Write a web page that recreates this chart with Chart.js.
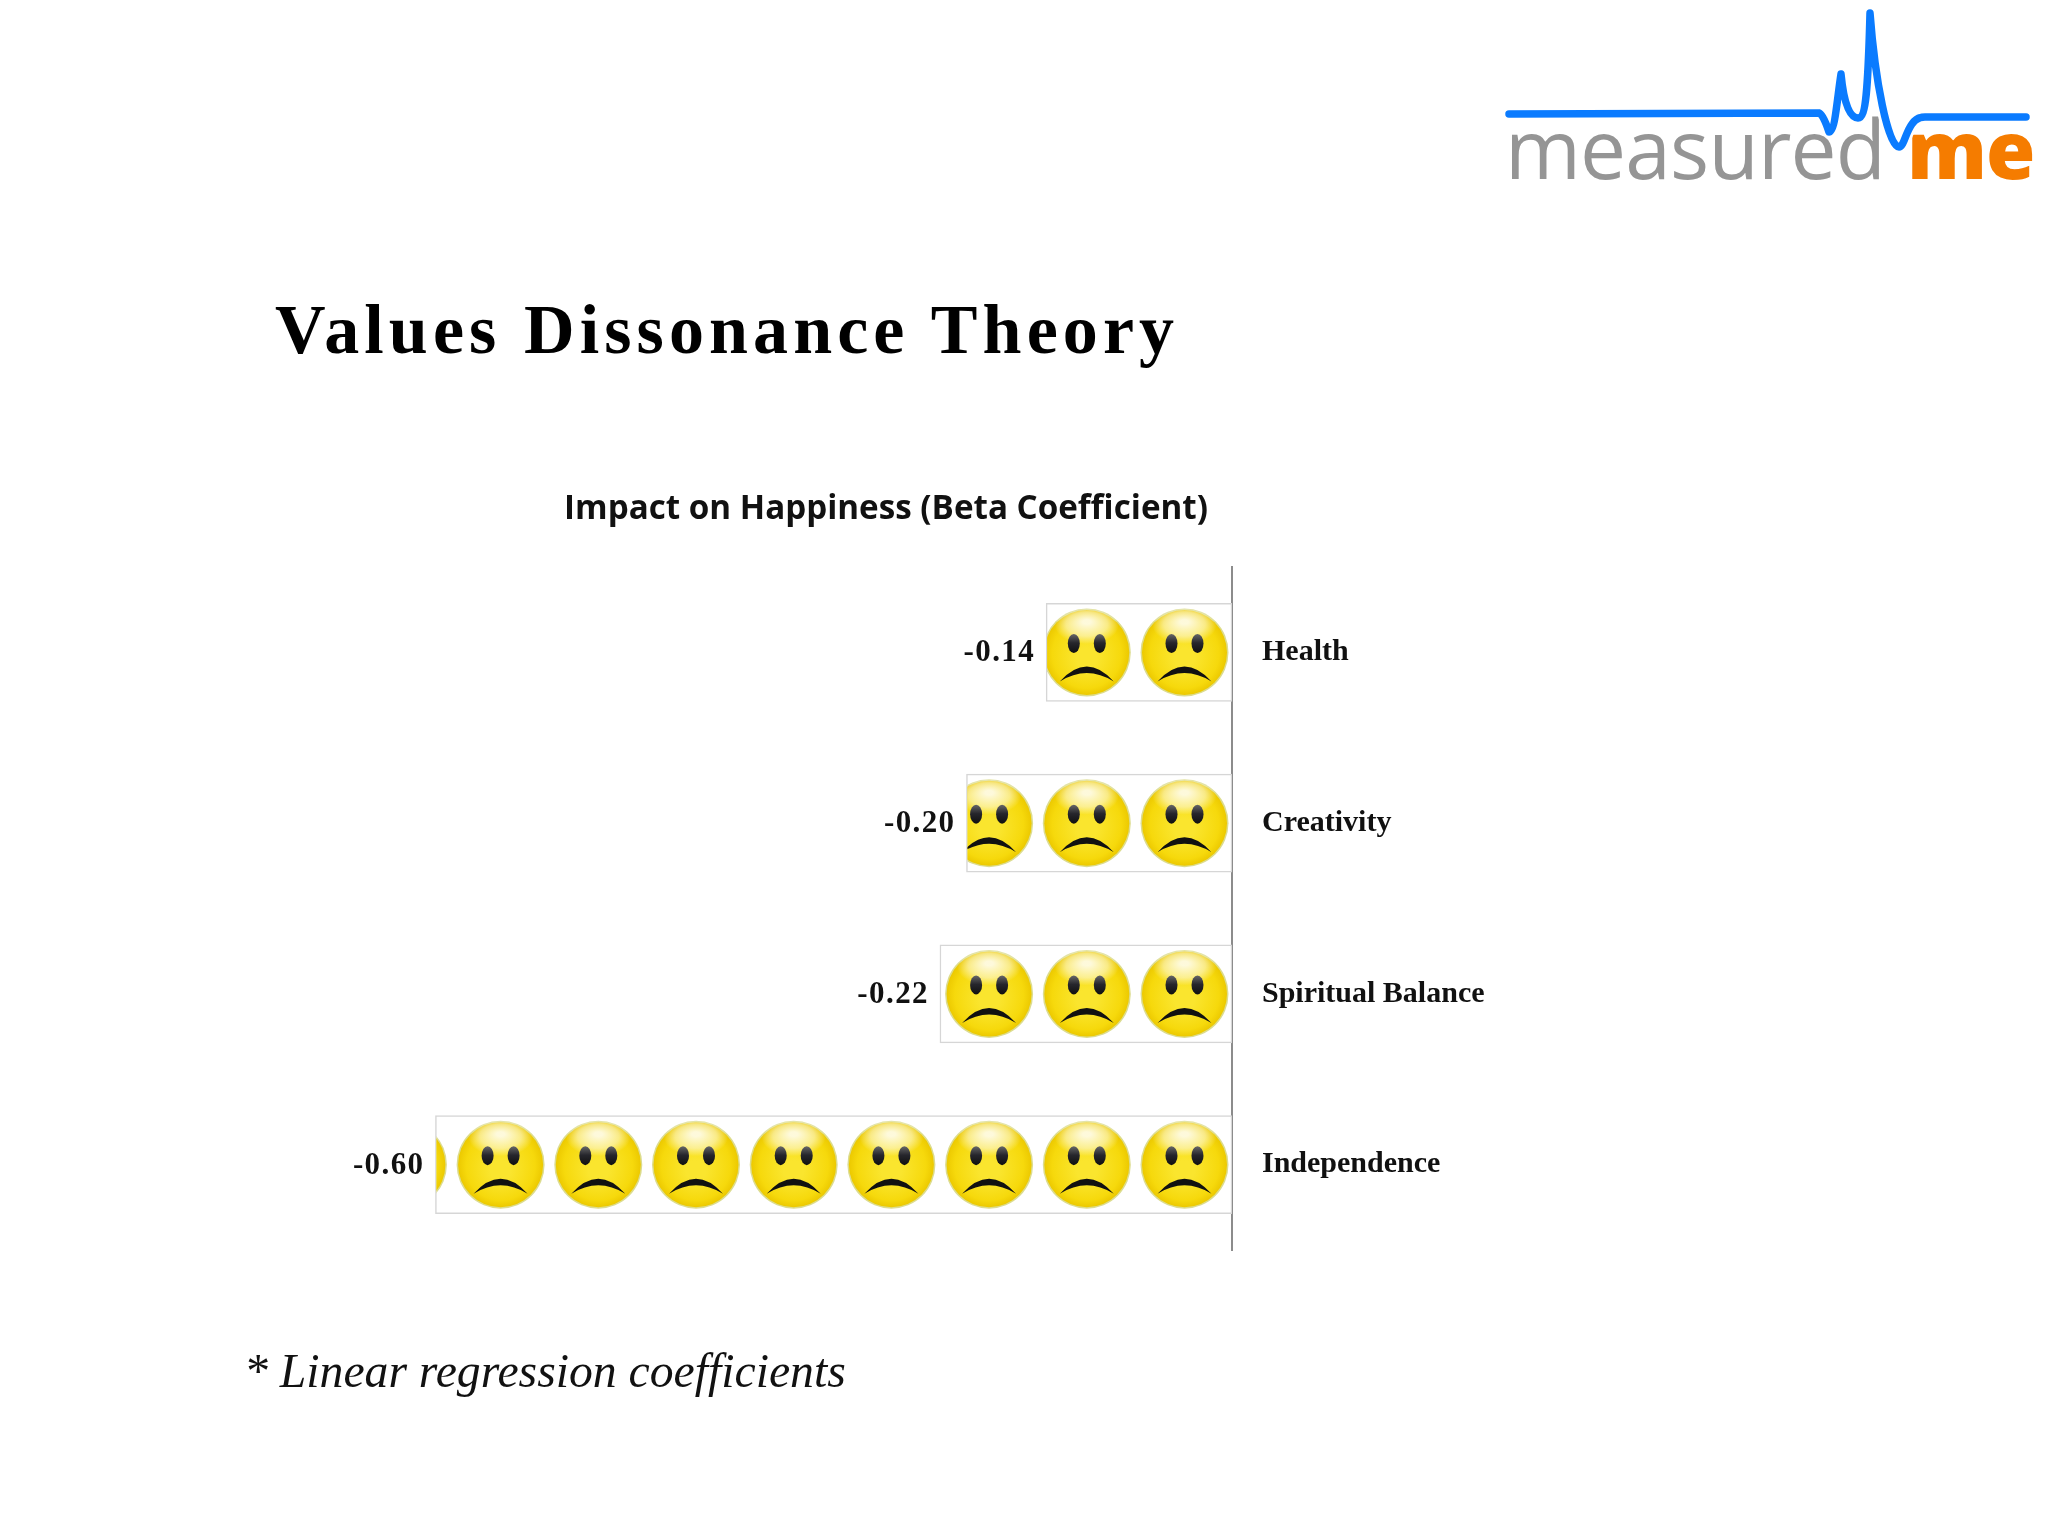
<!DOCTYPE html>
<html>
<head>
<meta charset="utf-8">
<title>Values Dissonance Theory</title>
<script src="https://cdn.jsdelivr.net/npm/chart.js@4"></script>
<style>
  html, body { margin: 0; background: #fff; width: 2048px; height: 1536px; overflow: hidden; }
  #chart { position: absolute; left: 0; top: 0; }
  .txt { position: absolute; white-space: nowrap; }
  #heading { left: 275px; top: 290px; font: bold 70px "Liberation Serif"; letter-spacing: 5.1px; color: #000; }
  #note { left: 244px; top: 1343px; font: italic 47.7px "Liberation Serif"; color: #111; }
  #logo-a { left: 1505px; top: 91px; font: 400 82px "Open Sans"; letter-spacing: -0.8px; color: #959595; }
  #logo-b { left: 1907px; top: 93px; font: 800 80px "Open Sans"; letter-spacing: -1px; color: #f57c00; }
  #wave { position: absolute; left: 0; top: 0; }
</style>
</head>
<body>
<canvas id="chart" width="1772" height="1536"></canvas>
<div class="txt" id="heading">Values Dissonance Theory</div>
<div class="txt" id="note">* Linear regression coefficients</div>
<div class="txt" id="logo-a">measured</div>
<div class="txt" id="logo-b">me</div>
<svg id="wave" width="2048" height="200" fill="none" stroke-linecap="round" stroke-linejoin="round">
  <path d="M1870 13 C1875 80 1888 147 1899 147 C1906 147 1906 117 1925 117" stroke="#fff" stroke-width="13"/>
  <path d="M1509 114 L1819 113 Q1823 114 1829 132 C1835 132 1837 100 1841 74 C1844 105 1850 118 1858 118 C1866 118 1868 90 1870 13 C1875 80 1888 147 1899 147 C1906 147 1906 117 1925 117 L2026 117"
        stroke="#0a7bff" stroke-width="7.5"/>
</svg>
<script>
const categories = ['Health', 'Creativity', 'Spiritual Balance', 'Independence']
const betaValues = [-0.14, -0.20, -0.22, -0.60]
const chartTitle = 'Impact on Happiness (Beta Coefficient)'

const AXIS_MIN = -0.928
const FACE_STEP = 97.7
const FACE_R = 44

function drawFace(ctx, x, y) {
  const r = FACE_R
  ctx.save()
  ctx.translate(x, y)

  // rim + body
  ctx.beginPath()
  ctx.arc(0, 0, r, 0, Math.PI * 2)
  ctx.fillStyle = '#dcdc8e'
  ctx.fill()
  const body = ctx.createRadialGradient(0, 6, 10, 0, 0, r - 1.5)
  body.addColorStop(0, '#fae52e')
  body.addColorStop(0.75, '#f6d90c')
  body.addColorStop(1, '#ecc900')
  ctx.beginPath()
  ctx.arc(0, 0, r - 1.5, 0, Math.PI * 2)
  ctx.fillStyle = body
  ctx.fill()

  // shine on top, soft edge
  ctx.save()
  ctx.translate(0, -27)
  ctx.scale(1, 0.58)
  const shine = ctx.createRadialGradient(0, -6, 4, 0, 0, 32)
  shine.addColorStop(0, 'rgba(255,255,255,0.85)')
  shine.addColorStop(0.6, 'rgba(255,255,255,0.5)')
  shine.addColorStop(1, 'rgba(255,255,255,0)')
  ctx.beginPath()
  ctx.arc(0, 0, 32, 0, Math.PI * 2)
  ctx.fillStyle = shine
  ctx.fill()
  ctx.restore()

  // eyes
  for (const ex of [-13, 13]) {
    const eye = ctx.createLinearGradient(0, -19, 0, 0)
    eye.addColorStop(0, '#6b6b6b')
    eye.addColorStop(0.5, '#26262c')
    eye.addColorStop(1, '#111')
    ctx.beginPath()
    ctx.ellipse(ex, -9, 6, 9.5, 0, 0, Math.PI * 2)
    ctx.fillStyle = eye
    ctx.fill()
  }

  // mouth, thick in the middle
  ctx.beginPath()
  ctx.moveTo(-27, 29)
  ctx.quadraticCurveTo(0, -1, 27, 29)
  ctx.quadraticCurveTo(0, 12, -27, 29)
  ctx.closePath()
  ctx.fillStyle = '#111'
  ctx.fill()

  ctx.restore()
}

// smileys clipped to each bar, plus the value left of it
const facesPlugin = {
  id: 'faces',
  afterDatasetsDraw(chart) {
    const ctx = chart.ctx
    const bars = chart.getDatasetMeta(0).data
    bars.forEach((bar, i) => {
      const top = bar.y - bar.height / 2
      ctx.save()
      ctx.beginPath()
      ctx.rect(bar.x + 1, top + 1, bar.base - bar.x - 1, bar.height - 2)
      ctx.clip()
      for (let x = bar.base - 47.5; x + FACE_R > bar.x; x -= FACE_STEP) {
        drawFace(ctx, x, bar.y)
      }
      ctx.restore()

      ctx.save()
      ctx.font = 'bold 31px "Liberation Serif"'
      ctx.letterSpacing = '1.4px'
      ctx.fillStyle = '#111'
      ctx.textAlign = 'right'
      ctx.textBaseline = 'middle'
      ctx.fillText(betaValues[i].toFixed(2), bar.x - 11, bar.y + 1)
      ctx.restore()
    })
  }
}

new Chart(document.getElementById('chart').getContext('2d'), {
  type: 'bar',
  data: {
    labels: categories,
    datasets: [{
      data: betaValues,
      backgroundColor: '#ffffff',
      borderColor: '#d6d6d6',
      borderWidth: 1.5,
      borderSkipped: false,
      barThickness: 98,
    }],
  },
  options: {
    indexAxis: 'y',
    responsive: false,
    animation: false,
    layout: { padding: { bottom: 286 } },
    scales: {
      x: { display: false, min: AXIS_MIN, max: 0 },
      y: {
        position: 'right',
        grid: { display: false },
        border: { display: true, color: '#8c8c8c', width: 2 },
        ticks: {
          padding: 22,
          color: '#111',
          crossAlign: 'near',
          font: { family: 'Liberation Serif', weight: 'bold', size: 30 },
        },
        afterFit(scale) { scale.width = 540 },
      },
    },
    plugins: {
      legend: { display: false },
      tooltip: { enabled: false },
      title: {
        display: true,
        text: chartTitle,
        color: '#111',
        font: { family: 'Open Sans', weight: '700', size: 33.2, lineHeight: 1.2 },
        padding: { top: 490, bottom: 37.2 },
      },
    },
  },
  plugins: [facesPlugin],
})
</script>
</body>
</html>
